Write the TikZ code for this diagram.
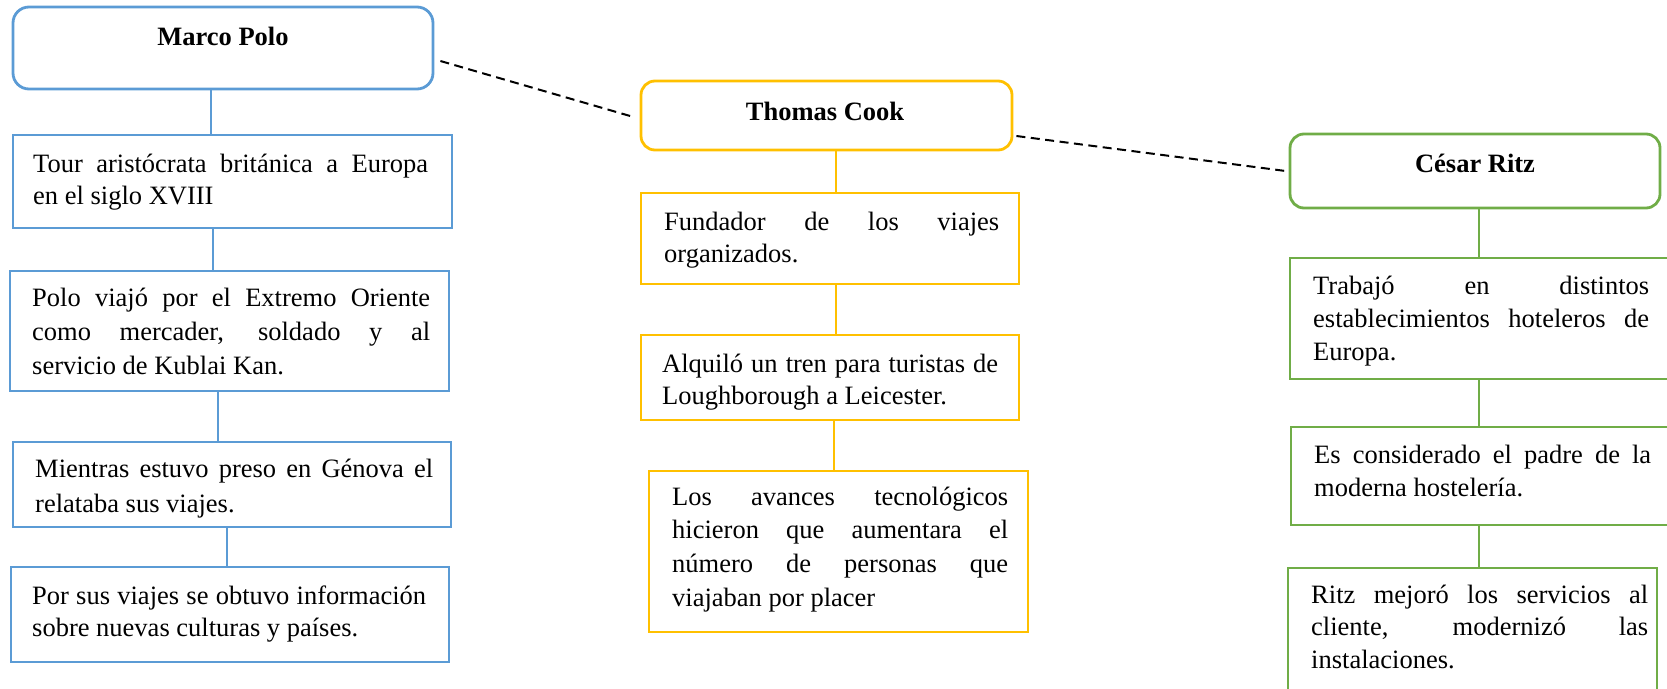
\documentclass[tikz,border=0pt]{standalone}
\usepackage{fontspec}
\setmainfont{Liberation Serif}
\definecolor{mpblue}{HTML}{5B9BD5}
\definecolor{tcgold}{HTML}{FFC000}
\definecolor{crgreen}{HTML}{70AD47}
\newcommand\jl[1]{{\spaceskip=0pt\xspaceskip=0pt\makebox[\hsize][s]{#1}}}
\tikzset{
  headbox/.style={draw=#1, line width=2.8pt, inner sep=0pt, rectangle},
  factbox/.style={draw=#1, line width=2.8pt, inner sep=0pt, rectangle},
  conn/.style={draw=#1, line width=2pt},
  rel/.style={draw=black, line width=2pt, dash pattern=on 9pt off 5.5pt},
  headtxt/.style={anchor=base, inner sep=0pt, font=\fontsize{26.5}{30}\selectfont\bfseries},
  facttxt/.style={anchor=base west, inner sep=0pt, align=justify, text width=#1,
    execute at begin node={\hyphenpenalty=10000\exhyphenpenalty=10000}}
}
\begin{document}
\begin{tikzpicture}[x=1pt,y=-1pt]
\useasboundingbox (0,0) rectangle (1667,688);
\clip (0,0) rectangle (1667,688);

% ---------- Marco Polo column ----------
\node[headbox=mpblue, rounded corners=16pt, minimum width=420pt, minimum height=82pt] (mp) at (223,48) {};
\node[headtxt] (mpt) at (223,45) {Marco Polo};
\node[factbox=mpblue, minimum width=439pt, minimum height=93pt] (b1) at (232.5,181.5) {};
\node[factbox=mpblue, minimum width=439pt, minimum height=120pt] (b2) at (229.5,331) {};
\node[factbox=mpblue, minimum width=438pt, minimum height=85pt] (b3) at (232,484.5) {};
\node[factbox=mpblue, minimum width=438pt, minimum height=95pt] (b4) at (230,614.5) {};

\node[facttxt=395pt, font=\fontsize{26.5}{31.5}\selectfont] (b1t) at (33,172.5)
  {\jl{Tour aristócrata británica a Europa}\\en el siglo XVIII};
\node[facttxt=398pt, font=\fontsize{26.5}{34}\selectfont] (b2t) at (32,306)
  {\jl{Polo viajó por el Extremo Oriente}\\\jl{como mercader, soldado y al}\\servicio de Kublai Kan.};
\node[facttxt=398pt, font=\fontsize{26.5}{35}\selectfont] (b3t) at (35,477)
  {\jl{Mientras estuvo preso en Génova el}\\relataba sus viajes.};
\node[facttxt=394pt, font=\fontsize{26.5}{32}\selectfont] (b4t) at (32,604)
  {\jl{Por sus viajes se obtuvo información}\\sobre nuevas culturas y países.};

\draw[conn=mpblue] ([xshift=-12pt]mp.south) -- ([xshift=-12pt]mp.south |- b1.north);
\draw[conn=mpblue] ([xshift=-19.5pt]b1.south) -- ([xshift=-19.5pt]b1.south |- b2.north);
\draw[conn=mpblue] ([xshift=-11.5pt]b2.south) -- ([xshift=-11.5pt]b2.south |- b3.north);
\draw[conn=mpblue] ([xshift=-5pt]b3.south) -- ([xshift=-5pt]b3.south |- b4.north);

% ---------- Thomas Cook column ----------
\node[headbox=tcgold, rounded corners=14pt, minimum width=371pt, minimum height=69pt] (tc) at (826.5,115.5) {};
\node[headtxt] (tct) at (825,120) {Thomas Cook};
\node[factbox=tcgold, minimum width=378pt, minimum height=91pt] (c1) at (830,238.5) {};
\node[factbox=tcgold, minimum width=378pt, minimum height=85pt] (c2) at (830,377.5) {};
\node[factbox=tcgold, minimum width=379pt, minimum height=161pt] (c3) at (838.5,551.5) {};

\node[facttxt=335pt, font=\fontsize{26.5}{32}\selectfont] (c1t) at (664,230)
  {\jl{Fundador de los viajes}\\organizados.};
\node[facttxt=336pt, font=\fontsize{26.5}{32}\selectfont] (c2t) at (662,372)
  {\jl{Alquiló un tren para turistas de}\\Loughborough a Leicester.};
\node[facttxt=336pt, font=\fontsize{26.5}{33.7}\selectfont] (c3t) at (672,505)
  {\jl{Los avances tecnológicos}\\\jl{hicieron que aumentara el}\\\jl{número de personas que}\\viajaban por placer};

\draw[conn=tcgold] ([xshift=9.5pt]tc.south) -- ([xshift=9.5pt]tc.south |- c1.north);
\draw[conn=tcgold] ([xshift=6pt]c1.south) -- ([xshift=6pt]c1.south |- c2.north);
\draw[conn=tcgold] ([xshift=4pt]c2.south) -- ([xshift=4pt]c2.south |- c3.north);

% ---------- César Ritz column ----------
\node[headbox=crgreen, rounded corners=14pt, minimum width=370pt, minimum height=74pt] (cr) at (1475,171) {};
\node[headtxt] (crt) at (1475,172) {César Ritz};
\node[factbox=crgreen, minimum width=400pt, minimum height=121pt] (r1) at (1490,318.5) {};
\node[factbox=crgreen, minimum width=399pt, minimum height=98pt] (r2) at (1490.5,476) {};
\node[factbox=crgreen, minimum width=369pt, minimum height=142pt] (r3) at (1472.5,639) {};

\node[facttxt=336pt, font=\fontsize{26.5}{33}\selectfont] (r1t) at (1313,294)
  {\jl{Trabajó en distintos}\\\jl{establecimientos hoteleros de}\\Europa.};
\node[facttxt=337pt, font=\fontsize{26.5}{33}\selectfont] (r2t) at (1314,463)
  {\jl{Es considerado el padre de la}\\moderna hostelería.};
\node[facttxt=337pt, font=\fontsize{26.5}{32.5}\selectfont] (r3t) at (1311,603)
  {\jl{Ritz mejoró los servicios al}\\\jl{cliente, modernizó las}\\instalaciones.};

\draw[conn=crgreen] ([xshift=4pt]cr.south) -- ([xshift=4pt]cr.south |- r1.north);
\draw[conn=crgreen] ([xshift=-11pt]r1.south) -- ([xshift=-11pt]r1.south |- r2.north);
\draw[conn=crgreen] ([xshift=-11.5pt]r2.south) -- ([xshift=-11.5pt]r2.south |- r3.north);

% ---------- dashed relations ----------
\draw[rel] ([xshift=6pt,yshift=-13pt]mp.east) -- ([xshift=-6pt,yshift=-1.5pt]tc.west);
\draw[rel] ([xshift=3pt,yshift=-20.5pt]tc.east) -- ([xshift=-3pt]cr.west);
\end{tikzpicture}
\end{document}
